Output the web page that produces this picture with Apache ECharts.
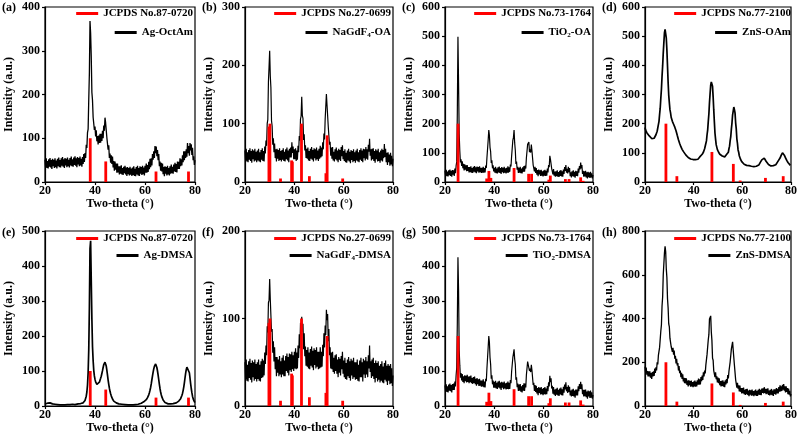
<!DOCTYPE html>
<html><head><meta charset="utf-8">
<script src="https://cdn.jsdelivr.net/npm/echarts@6/dist/echarts.min.js"></script>
<style>html,body{margin:0;padding:0;background:#fff}#c{width:800px;height:437px}</style>
</head><body><div id="c"></div>
<script>
// ---------- data ----------
const panelLabels = ['(a)','(b)','(c)','(d)','(e)','(f)','(g)','(h)'];
const refNames = ['JCPDS No.87-0720','JCPDS No.27-0699','JCPDS No.73-1764','JCPDS No.77-2100',
                  'JCPDS No.87-0720','JCPDS No.27-0699','JCPDS No.73-1764','JCPDS No.77-2100'];
const sampleNames = ['Ag-OctAm','NaGdF4-OA','TiO2-OA','ZnS-OAm','Ag-DMSA','NaGdF4-DMSA','TiO2-DMSA','ZnS-DMSA'];
const xTicks = [20, 40, 60, 80];
const yMax = [400, 300, 600, 600, 500, 200, 500, 800];
const yStep = [100, 100, 100, 100, 100, 100, 100, 200];

// reference stick patterns [2theta, intensity]
const refAg = [[38.1,100],[44.3,47],[64.4,24],[77.4,24]];
const refNaGdF4 = [[29.7,95],[30.1,100],[34.4,6],[38.9,37],[39.2,35],[42.9,100],[46.1,10],[52.8,15],[53.3,80],[59.6,6]];
const refTiO2 = [[25.3,200],[36.9,12],[37.8,38],[38.6,14],[48.0,48],[53.9,28],[55.1,28],[62.1,8],[62.7,22],[68.8,10],[70.3,10],[75.0,16],[76.0,4]];
const refZnS = [[28.6,200],[33.1,20],[47.5,103],[56.3,62],[59.1,5],[69.5,14],[76.8,20]];

// measurement angles (2theta, degrees)
const twoTheta = [
20,20.25,20.5,20.75,21,21.25,21.5,21.75,22,22.25,22.5,22.75,23,23.25,23.5,23.75,24,24.25,24.5,24.75,
25,25.25,25.5,25.75,26,26.25,26.5,26.75,27,27.25,27.5,27.75,28,28.25,28.5,28.75,29,29.25,29.5,29.75,
30,30.25,30.5,30.75,31,31.25,31.5,31.75,32,32.25,32.5,32.75,33,33.25,33.5,33.75,34,34.25,34.5,34.75,
35,35.25,35.5,35.75,36,36.25,36.5,36.75,37,37.25,37.5,37.75,38,38.25,38.5,38.75,39,39.25,39.5,39.75,
40,40.25,40.5,40.75,41,41.25,41.5,41.75,42,42.25,42.5,42.75,43,43.25,43.5,43.75,44,44.25,44.5,44.75,
45,45.25,45.5,45.75,46,46.25,46.5,46.75,47,47.25,47.5,47.75,48,48.25,48.5,48.75,49,49.25,49.5,49.75,
50,50.25,50.5,50.75,51,51.25,51.5,51.75,52,52.25,52.5,52.75,53,53.25,53.5,53.75,54,54.25,54.5,54.75,
55,55.25,55.5,55.75,56,56.25,56.5,56.75,57,57.25,57.5,57.75,58,58.25,58.5,58.75,59,59.25,59.5,59.75,
60,60.25,60.5,60.75,61,61.25,61.5,61.75,62,62.25,62.5,62.75,63,63.25,63.5,63.75,64,64.25,64.5,64.75,
65,65.25,65.5,65.75,66,66.25,66.5,66.75,67,67.25,67.5,67.75,68,68.25,68.5,68.75,69,69.25,69.5,69.75,
70,70.25,70.5,70.75,71,71.25,71.5,71.75,72,72.25,72.5,72.75,73,73.25,73.5,73.75,74,74.25,74.5,74.75,
75,75.25,75.5,75.75,76,76.25,76.5,76.75,77,77.25,77.5,77.75,78,78.25,78.5,78.75,79,79.25,79.5,79.75,
80];

// measured intensities (a.u.), one per angle above
const xrdAgOctAm = [
51,34,54,32,48,31,52,35,55,33,50,30,53,36,51,32,54,34,49,31,
53,36,56,34,50,33,54,37,57,35,52,32,55,38,53,34,56,36,51,33,
55,38,58,36,52,35,56,39,59,37,54,34,57,40,55,36,58,38,53,35,
57,41,64,46,66,55,85,78,113,121,188,248,368,340,286,205,187,148,147,119,
127,104,118,93,105,86,106,89,110,90,110,94,117,100,129,117,147,135,139,101,
104,74,84,55,65,44,61,41,58,33,48,26,47,28,42,21,42,22,36,17,
36,19,38,17,32,16,35,20,37,17,33,14,34,18,32,15,35,17,31,14,
33,16,36,14,30,13,34,17,37,15,32,14,36,19,34,16,37,18,33,15,
37,21,42,21,39,23,46,29,53,34,54,38,64,51,70,55,82,66,81,59,
73,50,64,36,47,26,44,24,42,18,34,13,36,19,34,15,37,17,32,15,
36,19,40,20,35,19,40,24,44,23,41,22,47,30,46,30,54,36,52,38,
61,45,70,50,70,55,75,58,89,66,82,60,89,72,86,62,78,50,59,39,
50];
const xrdNaGdF4OA = [
54,37,57,35,51,34,55,38,58,36,53,33,56,39,54,35,57,37,52,34,
54,37,57,35,51,34,55,38,58,36,53,35,61,49,71,62,100,107,172,197,
225,182,162,105,96,64,75,51,66,41,56,35,57,40,55,36,58,38,53,35,
55,38,58,36,52,35,56,39,59,37,54,34,57,42,59,42,68,50,61,39,
56,39,58,36,54,38,62,51,79,71,108,113,146,114,109,72,82,54,63,41,
57,40,59,37,53,36,57,40,60,38,55,35,58,41,56,37,59,39,54,36,
57,40,62,42,59,44,68,56,83,73,108,110,151,132,134,95,97,64,69,45,
59,40,60,37,52,35,56,39,59,37,54,34,57,38,55,36,60,44,63,39,
53,36,56,34,50,33,54,37,57,35,52,32,55,38,53,34,56,36,51,33,
54,37,57,35,51,34,55,38,58,36,54,34,57,41,56,37,60,40,56,38,
64,52,74,45,56,37,57,39,58,36,53,33,56,39,54,35,57,36,51,33,
54,37,57,35,55,41,65,43,57,34,50,29,51,34,47,28,50,30,45,27,
40];
const xrdTiO2OA = [
39,22,42,20,36,19,40,23,43,21,38,18,41,25,40,21,46,30,55,69,
240,498,340,165,106,67,78,55,71,47,62,40,61,42,57,37,58,38,51,33,
51,34,54,32,48,31,52,35,55,33,50,30,53,36,51,32,54,34,49,31,
49,32,52,32,48,33,56,48,83,86,143,178,160,119,104,65,74,47,57,36,
49,32,52,30,46,29,50,33,53,31,48,28,51,34,49,30,52,32,47,29,
49,32,54,32,50,35,60,53,88,91,143,153,178,134,109,62,70,42,52,31,
49,32,52,30,46,29,50,35,55,35,56,46,83,89,129,123,137,102,112,101,
128,107,102,58,61,36,52,31,48,25,41,20,43,26,40,21,42,22,37,19,
39,22,42,21,38,22,46,33,58,51,90,78,81,46,51,26,44,22,36,18,
37,20,40,18,34,17,38,21,41,19,37,18,43,28,51,38,58,32,45,29,
52,34,48,20,33,16,37,20,40,18,35,15,38,21,37,20,46,32,55,43,
67,47,58,28,38,18,37,19,38,16,33,12,35,17,32,14,35,16,30,12,
24];
const xrdZnSOAm = [
187,178,177,169,170,163,164,158,160,153,155,149,152,148,152,150,156,155,162,163,
174,180,197,208,232,253,287,318,362,398,442,478,512,523,520,493,452,398,342,298,
272,248,237,222,217,208,207,198,197,188,187,176,172,160,157,145,142,132,130,121,
120,112,112,105,106,99,100,93,95,88,90,84,87,81,84,79,82,78,81,77,
81,77,81,77,81,77,81,78,83,80,86,84,90,88,95,94,102,103,114,118,
132,141,162,178,207,233,272,303,332,343,349,328,292,248,207,168,147,128,122,111,
110,102,102,95,97,91,94,89,92,87,90,86,90,87,94,93,100,102,114,123,
142,156,182,203,230,243,257,248,237,203,182,148,132,110,102,90,87,78,77,70,
68,64,66,61,64,59,62,57,62,57,60,56,60,55,59,54,58,54,58,53,
57,53,57,54,58,55,60,58,64,62,69,68,76,75,81,78,82,76,78,71,
72,65,66,60,62,57,60,55,59,55,59,56,60,57,62,59,65,63,69,68,
75,74,82,83,92,93,100,97,99,92,92,83,82,74,74,67,68,61,63,57,
56];
const xrdAgDMSA = [
6,9,5,11,8,13,7,12,9,14,8,11,6,10,7,9,5,8,4,7,
4,6,3,5,3,4,2,4,3,5,3,4,3,5,4,6,4,5,3,5,
4,6,5,8,5,6,4,5,4,5,4,5,5,6,5,6,6,7,6,7,
8,9,11,13,16,21,28,40,60,95,160,280,450,472,360,250,170,130,102,86,
76,69,64,62,61,62,64,68,73,79,85,93,101,110,118,123,125,122,114,102,
88,74,62,51,42,35,29,24,20,17,14,12,11,10,9,8,7,7,6,6,
6,5,5,5,4,4,4,4,4,3,3,3,3,3,3,3,3,3,3,3,
3,3,3,4,4,4,4,5,5,5,6,6,7,7,8,9,10,11,12,13,
14,16,18,21,24,28,32,38,45,53,63,75,86,97,106,113,118,120,117,110,
100,88,75,62,50,40,32,26,21,17,14,12,10,9,8,7,7,6,6,6,
6,6,6,6,6,7,7,7,8,8,9,10,11,12,14,16,18,21,25,30,
36,44,54,66,80,93,104,111,114,113,106,95,80,64,50,38,28,21,16,12,
10];
const xrdNaGdF4DMSA = [
50,31,53,29,47,28,51,32,54,30,49,27,52,33,50,29,53,31,48,28,
50,31,53,29,47,28,51,32,54,33,52,35,61,48,69,58,91,84,118,121,
145,122,124,85,88,61,74,51,67,42,56,34,56,38,53,34,57,36,51,33,
55,36,58,34,52,34,57,40,60,38,56,35,60,41,59,39,62,42,58,40,
62,43,66,42,61,43,69,55,82,66,95,83,102,85,94,65,83,57,68,46,
64,45,67,43,61,42,65,46,68,44,63,41,66,47,64,43,67,45,62,42,
62,43,67,44,62,45,70,57,83,67,92,81,110,98,105,74,88,58,67,43,
61,42,62,39,55,37,58,40,59,37,53,33,56,38,54,35,57,42,62,37,
52,33,55,31,49,30,53,34,56,32,51,29,54,35,52,31,55,33,50,30,
50,31,53,29,47,28,52,33,55,33,50,28,54,36,52,32,56,36,51,33,
58,43,69,39,51,32,53,34,55,31,49,27,52,32,49,28,51,30,46,27,
48,29,51,27,45,26,49,30,52,28,46,24,48,29,46,25,48,26,43,23,
35];
const xrdTiO2DMSA = [
59,42,62,40,56,39,61,44,64,42,60,39,63,46,64,46,70,56,87,109,
239,425,332,160,116,81,94,73,91,69,85,65,88,71,86,67,89,69,84,65,
85,68,87,65,80,63,83,66,84,62,78,58,80,62,76,57,78,58,73,55,
73,56,76,54,70,53,78,71,108,111,168,200,183,139,119,78,88,62,73,52,
69,52,72,50,66,49,70,53,72,50,67,46,69,52,67,48,70,50,65,47,
66,49,70,48,66,49,74,65,98,96,138,150,162,134,119,75,82,54,64,43,
61,44,63,41,56,39,60,44,65,43,64,53,89,92,127,132,122,100,107,97,
118,102,100,60,66,43,60,40,58,36,51,31,54,37,52,33,54,34,49,31,
51,34,54,33,50,34,57,42,68,56,86,68,79,50,58,35,54,32,47,29,
49,32,52,30,46,29,50,33,53,31,48,30,55,38,61,47,68,42,54,37,
59,40,55,30,44,27,47,29,49,27,44,24,47,30,47,30,56,42,63,49,
69,48,62,34,46,27,46,28,47,25,41,21,44,27,42,23,44,24,39,21,
32];
const xrdZnSDMSA = [
180,154,176,143,160,135,159,135,159,129,150,124,155,135,158,137,171,151,177,163,
200,190,231,222,268,276,343,371,457,498,600,650,700,730,705,627,586,490,449,376,
362,310,316,272,280,248,266,235,253,216,230,195,216,185,196,162,183,150,162,132,
152,124,145,112,129,104,128,103,127,96,116,89,118,95,114,88,116,90,109,86,
112,90,116,88,110,89,117,97,125,98,122,99,132,114,139,119,154,135,162,149,
187,185,236,242,303,326,398,396,412,338,300,219,209,162,167,132,154,122,136,108,
130,104,127,95,114,90,115,92,117,88,111,86,118,99,123,104,141,126,159,154,
202,205,261,259,293,256,248,186,177,120,122,84,106,79,95,67,93,65,82,57,
82,59,84,54,74,51,77,54,79,50,71,45,74,52,72,47,75,49,68,45,
71,49,75,46,68,46,74,52,79,51,74,49,80,60,81,57,86,60,78,54,
79,56,81,51,71,48,74,52,78,49,71,46,76,55,76,52,82,58,79,58,
86,66,94,67,90,69,97,75,100,70,90,62,90,65,82,54,80,52,69,44,
55];

const refData = [refAg, refNaGdF4, refTiO2, refZnS, refAg, refNaGdF4, refTiO2, refZnS];
const xrdData = [xrdAgOctAm, xrdNaGdF4OA, xrdTiO2OA, xrdZnSOAm, xrdAgDMSA, xrdNaGdF4DMSA, xrdTiO2DMSA, xrdZnSDMSA];

// ---------- layout ----------
const FONT = '"Liberation Serif", "Times New Roman", serif';
const colLeft = [45, 245, 445, 645];
const colWidth = [150, 148, 148, 148];
const rowTop = [7, 231];
const plotH = 175;
const lineW = [1.3, 1.2, 1.2, 1.7, 1.7, 1.2, 1.2, 1.3];

function stickItem(params, api) {
  const x = api.value(0), y = api.value(1);
  const p0 = api.coord([x, 0]);
  const p1 = api.coord([x, y]);
  return { type: 'rect', shape: { x: p0[0] - 1.4, y: p1[1], width: 2.8, height: p0[1] - p1[1] },
           style: { fill: '#ff0000' } };
}

const grids = [], xAxes = [], yAxes = [], series = [], legends = [], graphics = [];
for (let i = 0; i < 8; i++) {
  const col = i % 4, row = Math.floor(i / 4);
  const left = colLeft[col], width = colWidth[col], top = rowTop[row];
  const pts = xrdData[i].map((v, k) => [twoTheta[k], v]);
  grids.push({ left, top, width, height: plotH, show: true, borderColor: '#000', borderWidth: 1.2, backgroundColor: 'transparent', containLabel: false });
  xAxes.push({
    type: 'value', gridIndex: i, min: xTicks[0], max: xTicks[xTicks.length - 1], interval: 20,
    name: 'Two-theta (°)', nameLocation: 'middle', nameGap: 13,
    nameTextStyle: { fontFamily: FONT, fontWeight: 'bold', fontSize: 12, color: '#000' },
    axisLine: { show: true, onZero: false, lineStyle: { color: '#000', width: 1.2 } },
    axisTick: { show: true, inside: false, length: 3, lineStyle: { color: '#000', width: 1.2 } },
    axisLabel: { fontFamily: FONT, fontWeight: 'bold', fontSize: 12, color: '#000', margin: 3 },
    splitLine: { show: false }
  });
  yAxes.push({
    type: 'value', gridIndex: i, min: 0, max: yMax[i], interval: yStep[i],
    name: 'Intensity (a.u.)', nameLocation: 'middle', nameGap: 30,
    nameTextStyle: { fontFamily: FONT, fontWeight: 'bold', fontSize: 12, color: '#000' },
    axisLine: { show: true, lineStyle: { color: '#000', width: 1.2 } },
    axisTick: { show: true, inside: false, length: 3, lineStyle: { color: '#000', width: 1.2 } },
    axisLabel: { fontFamily: FONT, fontWeight: 'bold', fontSize: 12, color: '#000', margin: 5 },
    splitLine: { show: false }
  });
  series.push({
    name: sampleNames[i], type: 'line', xAxisIndex: i, yAxisIndex: i, data: pts,
    showSymbol: false, symbol: 'none', color: '#000', sampling: null,
    lineStyle: { color: '#000', width: lineW[i], join: 'bevel' }, z: 2, animation: false
  });
  series.push({
    name: refNames[i], type: 'custom', xAxisIndex: i, yAxisIndex: i, data: refData[i],
    encode: { x: 0, y: 1 }, renderItem: stickItem, color: '#ff0000',
    itemStyle: { color: '#ff0000' }, z: 3, animation: false
  });
  const rightEdge = 800 - (left + width) + 2;
  const legBase = {
    orient: 'horizontal', right: rightEdge, padding: 0, icon: 'rect', itemWidth: 22, itemHeight: 3,
    selectedMode: false,
    textStyle: { fontFamily: FONT, fontWeight: 'bold', fontSize: 11, color: '#000',
      rich: { s: { fontFamily: FONT, fontWeight: 'bold', fontSize: 7, color: '#000', verticalAlign: 'bottom', padding: [6, 0, 0, 0] } } },
    formatter: function (n) { return n.replace(/NaGdF4/, 'NaGdF{s|4}').replace(/TiO2/, 'TiO{s|2}'); }
  };
  legends.push(Object.assign({}, legBase, { data: [{ name: refNames[i], itemStyle: { color: '#ff0000' } }], top: top + (row === 0 ? 1 : 2) }));
  legends.push(Object.assign({}, legBase, { data: [{ name: sampleNames[i], itemStyle: { color: '#000' } }], top: top + (row === 0 ? 20 : 19) }));
  graphics.push({ type: 'text', left: left - 43, top: top - (row === 0 ? 5 : 4),
    style: { text: panelLabels[i], font: 'bold 12px ' + FONT, fill: '#000' } });
}

const chart = echarts.init(document.getElementById('c'), null, { renderer: 'canvas' });
chart.setOption({
  animation: false, backgroundColor: '#fff',
  grid: grids, xAxis: xAxes, yAxis: yAxes, series, legend: legends, graphic: graphics
});
</script></body></html>
